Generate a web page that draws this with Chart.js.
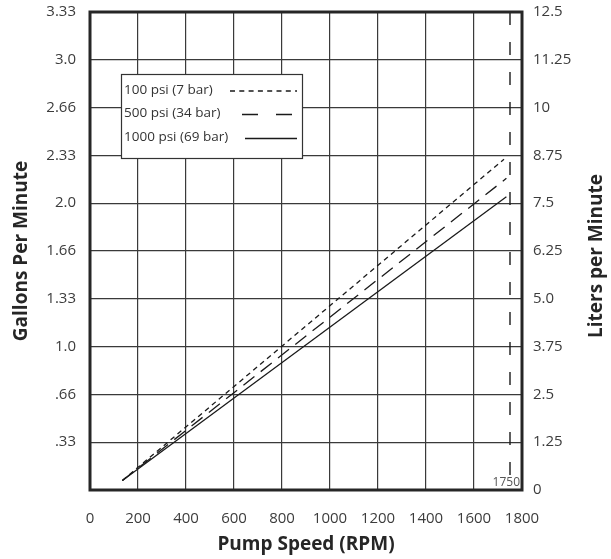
<!DOCTYPE html>
<html>
<head>
<meta charset="utf-8">
<script src="https://cdn.jsdelivr.net/npm/chart.js@4.4.0/dist/chart.umd.min.js"></script>
<style>
  html, body { margin: 0; padding: 0; background: #ffffff; }
  #wrap { width: 611px; height: 559px; }
</style>
</head>
<body>
<div id="wrap"><canvas id="c" width="611" height="559"></canvas></div>
<script>
// ---- data ----
const rpmTickLabels = ['0', '200', '400', '600', '800', '1000', '1200', '1400', '1600', '1800'];
const gpmTickLabels = ['', '.33', '.66', '1.0', '1.33', '1.66', '2.0', '2.33', '2.66', '3.0', '3.33'];
const lpmTickLabels = ['0', '1.25', '2.5', '3.75', '5.0', '6.25', '7.5', '8.75', '10', '11.25', '12.5'];
const seriesNames = ['100 psi (7 bar)', '500 psi (34 bar)', '1000 psi (69 bar)'];

const rpm100 = [135, 1725];
const lpm100 = [0.25, 8.65];
const rpm500 = [135, 1735];
const lpm500 = [0.25, 8.15];
const rpm1000 = [135, 1735];
const lpm1000 = [0.25, 7.67];

const ratedRpm = [1750, 1750];
const ratedLpm = [12.5, 0];
const ratedLabel = '1750';

const xTitle = 'Pump Speed (RPM)';
const yLeftTitle = 'Gallons Per Minute';
const yRightTitle = 'Liters per Minute';

// ---- build ----
const toPts = (xs, ys) => xs.map((x, i) => ({ x: x, y: ys[i] }));
const INK = '#1a1a1a';
const GRID = '#3a3a3a';
const TICK = '#3c3c3c';
const FONT = "'Open Sans', 'Liberation Sans', sans-serif";

Chart.defaults.font.family = FONT;

const legendDash = [[5, 4.3], [16, 18], []];
const legendSpan = [[230, 297], [242, 292], [245, 297]];

const framePlugin = {
  id: 'frame',
  afterDatasetsDraw(chart) {
    const ctx = chart.ctx;
    const a = chart.chartArea;
    ctx.save();
    // legend box
    const bx = 121, by = 74, bw = 181, bh = 84;
    ctx.fillStyle = '#ffffff';
    ctx.fillRect(bx, by, bw, bh);
    ctx.strokeStyle = '#333333';
    ctx.lineWidth = 1.2;
    ctx.strokeRect(bx + 0.5, by + 0.5, bw, bh);
    ctx.font = "13.5px " + FONT;
    ctx.fillStyle = '#333333';
    ctx.textBaseline = 'middle';
    ctx.textAlign = 'left';
    const rowsY = [90, 113.5, 137.5];
    seriesNames.forEach((name, i) => {
      ctx.fillText(name, 124, rowsY[i]);
      ctx.beginPath();
      ctx.setLineDash(legendDash[i]);
      ctx.lineWidth = 1.3;
      ctx.strokeStyle = INK;
      ctx.moveTo(legendSpan[i][0], rowsY[i] + 1);
      ctx.lineTo(legendSpan[i][1], rowsY[i] + 1);
      ctx.stroke();
    });
    ctx.setLineDash([]);
    // rated speed label
    ctx.font = "12px " + FONT;
    ctx.fillStyle = '#555555';
    ctx.textAlign = 'right';
    ctx.textBaseline = 'alphabetic';
    ctx.fillText(ratedLabel, a.right - 2, a.bottom - 4);
    // frame
    ctx.strokeStyle = '#262626';
    ctx.lineWidth = 3;
    ctx.strokeRect(a.left, a.top, a.right - a.left, a.bottom - a.top);
    // right axis title (reads bottom to top)
    ctx.save();
    ctx.translate(597, (a.top + a.bottom) / 2 + 5);
    ctx.rotate(-Math.PI / 2);
    ctx.font = "bold 19px " + FONT;
    ctx.fillStyle = '#262626';
    ctx.textAlign = 'center';
    ctx.textBaseline = 'middle';
    ctx.fillText(yRightTitle, 0, 0);
    ctx.restore();
    ctx.restore();
  }
};

new Chart(document.getElementById('c'), {
  type: 'line',
  data: {
    datasets: [
      { label: seriesNames[0], data: toPts(rpm100, lpm100), borderColor: INK, borderWidth: 1.3, borderDash: [5, 4], pointRadius: 0, fill: false, tension: 0, yAxisID: 'y' },
      { label: seriesNames[1], data: toPts(rpm500, lpm500), borderColor: INK, borderWidth: 1.3, borderDash: [14, 8], pointRadius: 0, fill: false, tension: 0, yAxisID: 'y' },
      { label: seriesNames[2], data: toPts(rpm1000, lpm1000), borderColor: INK, borderWidth: 1.3, pointRadius: 0, fill: false, tension: 0, yAxisID: 'y' },
      { label: 'rated', data: toPts(ratedRpm, ratedLpm), borderColor: INK, borderWidth: 1.4, borderDash: [13, 17], pointRadius: 0, fill: false, tension: 0, yAxisID: 'y' }
    ]
  },
  options: {
    responsive: false,
    animation: false,
    layout: { padding: { top: 12, left: 0, right: 0, bottom: 0 } },
    plugins: { legend: { display: false }, tooltip: { enabled: false } },
    scales: {
      x: {
        type: 'linear', min: 0, max: 1800,
        afterFit(s) { s.height = 69; s.paddingLeft = 0; s.paddingRight = 0; },
        grid: { color: GRID, lineWidth: 1.2, drawTicks: false },
        border: { display: false },
        ticks: {
          stepSize: 200, autoSkip: false, maxRotation: 0, padding: 20,
          color: TICK, font: { size: 15 },
          callback: (v, i) => rpmTickLabels[i]
        },
        title: { display: true, text: xTitle, color: '#262626', font: { size: 19, weight: 'bold' }, padding: { top: 0, bottom: 3 } }
      },
      y: {
        type: 'linear', position: 'left', min: 0, max: 12.5,
        afterFit(s) { s.width = 90; s.paddingTop = 0; s.paddingBottom = 0; },
        grid: { color: GRID, lineWidth: 1.2, drawTicks: false },
        border: { display: false },
        ticks: {
          stepSize: 1.25, autoSkip: false, padding: 14,
          color: TICK, font: { size: 15 },
          callback: (v, i) => gpmTickLabels[i]
        },
        title: { display: true, text: yLeftTitle, color: '#262626', font: { size: 19, weight: 'bold' }, padding: { top: 10, bottom: 0 } }
      },
      y2: {
        type: 'linear', position: 'right', min: 0, max: 12.5,
        afterFit(s) { s.width = 89; s.paddingTop = 0; s.paddingBottom = 0; },
        grid: { display: false, drawTicks: false },
        border: { display: false },
        ticks: {
          stepSize: 1.25, autoSkip: false, padding: 11,
          color: TICK, font: { size: 15 },
          callback: (v, i) => lpmTickLabels[i]
        }
      }
    }
  },
  plugins: [framePlugin]
});
</script>
</body>
</html>
